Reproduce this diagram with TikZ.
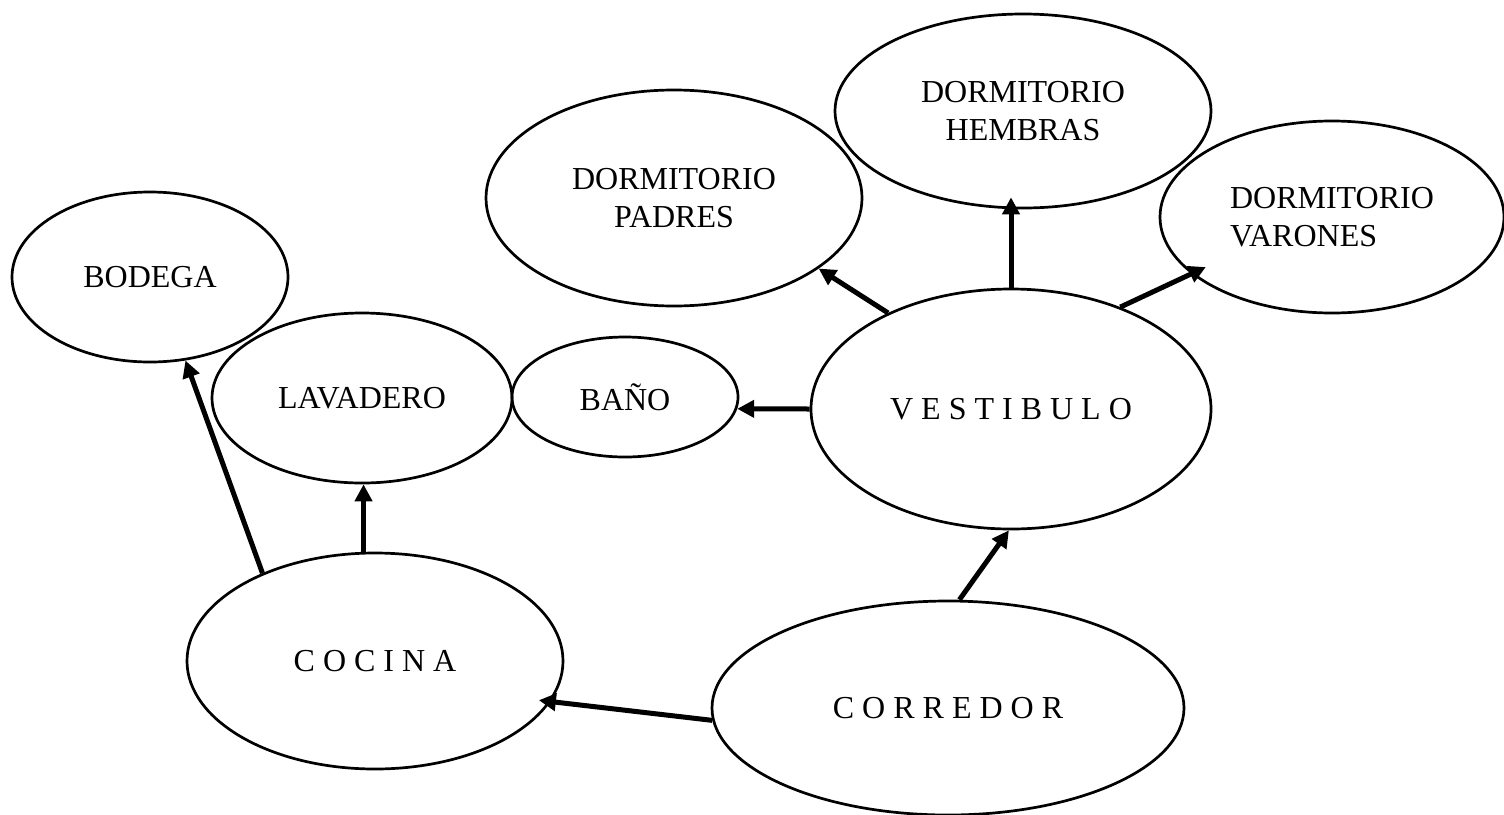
\documentclass[tikz,border=0pt]{standalone}
\usepackage{fontspec}
\setmainfont{Liberation Serif}
\usetikzlibrary{arrows.meta,shapes.geometric}
\tikzset{
  room/.style={ellipse,draw=black,line width=1.35pt,inner sep=0pt,align=center,
    font=\fontsize{16}{19}\selectfont},
  arrow/.style={-{Triangle[length=8.5pt,width=8.5pt]},line width=2.5pt}
}

\begin{document}
\begin{tikzpicture}[x=0.5pt,y=-0.5pt]
  \useasboundingbox (0,0) rectangle (1504,814);
  \node[room,minimum width=138pt,minimum height=85pt] (bodega) at (150,277) {BODEGA};
  \node[room,minimum width=150pt,minimum height=85pt] (lavadero) at (362,398) {LAVADERO};
  \node[room,minimum width=113pt,minimum height=60pt] (bano) at (625,397) {BAÑO};
  \node[room,minimum width=200pt,minimum height=120pt] (vestibulo) at (1011,409)
    {V E S T I B U L O};
  \node[room,minimum width=188pt,minimum height=108pt] (padres) at (674,198)
    {DORMITORIO\\PADRES};
  \node[room,minimum width=188pt,minimum height=97pt] (hembras) at (1023,111)
    {DORMITORIO\\HEMBRAS};
  \node[room,align=left,minimum width=172pt,minimum height=96pt] (varones) at (1332,217)
    {DORMITORIO\\VARONES};
  \node[room,minimum width=188pt,minimum height=108pt] (cocina) at (375,661) {C O C I N A};
  \node[room,minimum width=236pt,minimum height=107pt] (corredor) at (948,708)
    {C O R R E D O R};

  \draw[arrow,shorten >=-6pt] (corredor.183) -- (cocina.347);
  \draw[arrow] (corredor.84) -- (vestibulo.269);
  \draw[arrow] (vestibulo.west) -- (bano.354);
  \draw[arrow] (vestibulo.142) -- (padres.334);
  \draw[arrow,shorten >=-6pt] (vestibulo.north) -- (vestibulo.north |- hembras.south);
  \draw[arrow,shorten >=-8pt] (vestibulo.43) -- (varones.202);
  \draw[arrow] (cocina.96) -- (cocina.96 |- lavadero.south);
  \draw[arrow] (cocina.142) -- (bodega.293);
\end{tikzpicture}
\end{document}
